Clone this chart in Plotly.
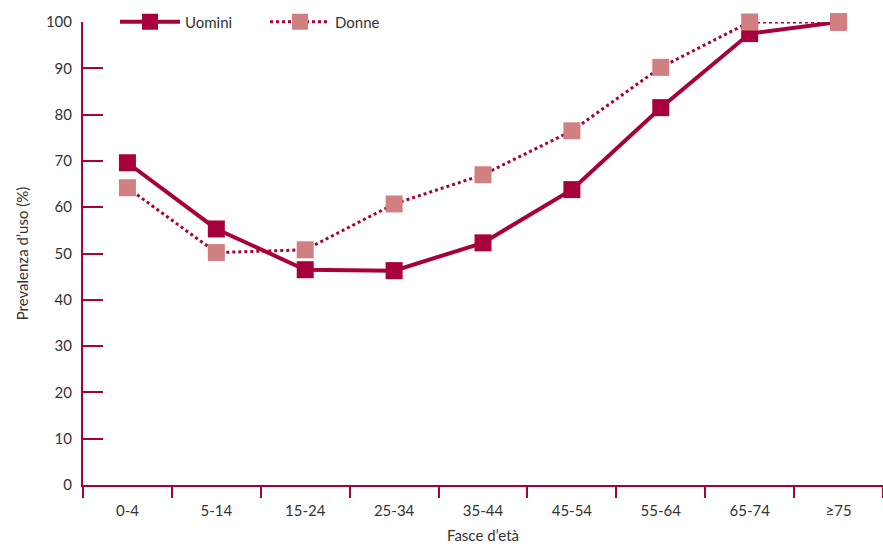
import plotly.graph_objects as go

# Fasce d'età e prevalenza d'uso (%)
fasce = ["0-4", "5-14", "15-24", "25-34", "35-44", "45-54", "55-64", "65-74", "≥75"]
uomini = [69.6, 55.3, 46.5, 46.3, 52.3, 63.8, 81.5, 97.5, 100.0]
donne = [64.2, 50.2, 50.8, 60.7, 67.0, 76.5, 90.2, 100.0, 100.0]

CRIMSON = "#A8003A"
PINK = "#D08080"
TEXT = "#333333"
FONT = "Lato"

fig = go.Figure()

fig.add_trace(go.Scatter(
    x=fasce, y=uomini, name="Uomini", mode="lines+markers",
    line=dict(color=CRIMSON, width=4),
    marker=dict(symbol="square", size=17, color=CRIMSON),
    cliponaxis=False,
))
fig.add_trace(go.Scatter(
    x=fasce, y=donne, name="Donne", mode="lines+markers",
    line=dict(color=CRIMSON, width=3, dash="dot"),
    marker=dict(symbol="square", size=17, color=PINK),
    cliponaxis=False,
))

fig.update_layout(
    width=883, height=546,
    margin=dict(l=83, r=0, t=22, b=61),
    plot_bgcolor="white", paper_bgcolor="white",
    font=dict(family=FONT, size=15, color=TEXT),
    showlegend=True,
    legend=dict(
        orientation="h", x=0.04, y=1.0, xanchor="left", yanchor="middle",
        font=dict(family=FONT, size=15, color=TEXT),
        bgcolor="rgba(0,0,0,0)", itemwidth=60, entrywidth=75,
    ),
    xaxis=dict(
        type="category", range=[-0.5, 8.5],
        showline=True, linecolor=CRIMSON, linewidth=2,
        ticks="outside", ticklen=11, tickwidth=1.5, tickcolor=CRIMSON,
        tickson="boundaries", showgrid=False, zeroline=False,
        ticklabelstandoff=11,
        tickfont=dict(family=FONT, size=15, color=TEXT),
        title=dict(text="Fasce d’età", font=dict(family=FONT, size=15, color=TEXT), standoff=12),
    ),
    yaxis=dict(
        range=[0, 100], dtick=10,
        showline=True, linecolor=CRIMSON, linewidth=2,
        ticks="inside", ticklen=20, tickwidth=1.5, tickcolor=CRIMSON,
        showgrid=False, zeroline=False, ticklabelstandoff=6,
        tickfont=dict(family=FONT, size=15, color=TEXT),
        title=dict(text="Prevalenza d’uso (%)", font=dict(family=FONT, size=15, color=TEXT), standoff=14),
    ),
)

fig.write_html("out.html")
